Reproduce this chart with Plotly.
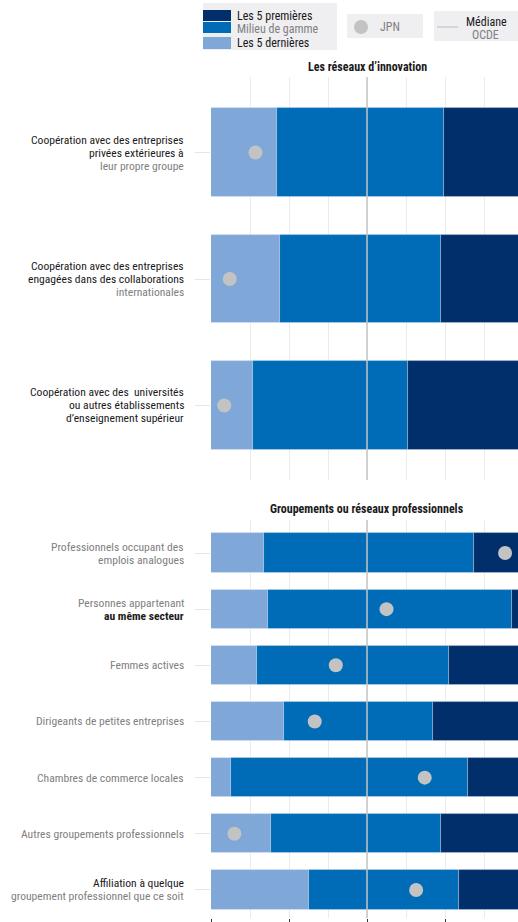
import plotly.graph_objects as go

# ---------------- data ----------------
top_labels = [
    ["Coopération avec des entreprises", "privées extérieures à", "leur propre groupe"],
    ["Coopération avec des entreprises", "engagées dans des collaborations", "internationales"],
    ["Coopération avec des  universités", "ou autres établissements", "d’enseignement supérieur"],
]
top_low = [8.5, 8.8, 5.4]      # end of "Les 5 dernières"
top_mid = [29.9, 29.5, 25.2]   # end of "Milieu de gamme"
top_max = [42, 42, 42]         # end of "Les 5 premières" (beyond visible range)
top_jpn = [5.7, 2.4, 1.7]

bot_labels = [
    ["Professionnels occupant des", "emplois analogues"],
    ["Personnes appartenant", "au même secteur"],
    ["Femmes actives"],
    ["Dirigeants de petites entreprises"],
    ["Chambres de commerce locales"],
    ["Autres groupements professionnels"],
    ["Affiliation à quelque", "groupement professionnel que ce soit"],
]
bot_low = [6.8, 7.3, 5.9, 9.3, 2.6, 7.7, 12.5]
bot_mid = [33.7, 38.6, 30.5, 28.4, 33.0, 29.5, 31.8]
bot_max = [42, 42, 42, 42, 42, 42, 42]
bot_jpn = [37.7, 22.5, 16.0, 13.3, 27.4, 3.0, 26.3]

oecd_median = 20

panel_titles = ["Les réseaux d’innovation", "Groupements ou réseaux professionnels"]
legend_bars = ["Les 5 premières", "Milieu de gamme", "Les 5 dernières"]
legend_jpn = "JPN"
legend_median = ["Médiane", "OCDE"]

# ---------------- styles ----------------
FONT = "Roboto Condensed, Liberation Sans, sans-serif"
FS = 11.6
LINE_GAP = 13
C_DARK = "#002F6C"
C_MID = "#006BB6"
C_LIGHT = "#7FA7D8"
C_DOT = "#C3C3C3"
C_MED = "#C6C6C6"
C_GRID = "#EBEBEB"
BLACK = "#1A1A1A"
GRAY = "#808080"
top_styles = [["k", "k", "g"], ["k", "k", "g"], ["k", "k", "k"]]
bot_styles = [["g", "g"], ["g", "b"], ["g"], ["g"], ["g"], ["g"], ["k", "g"]]

W, H = 518, 922
L = 211
PW = W - L
XR = PW / 7.8  # 7.8 px per unit


def px(x):
    return (x - L) / PW


def py(y):
    return 1 - y / H


fig = go.Figure()

panels = [
    dict(labels=top_labels, low=top_low, mid=top_mid, mx=top_max, jpn=top_jpn,
         xa="x", ya="y", styles=top_styles),
    dict(labels=bot_labels, low=bot_low, mid=bot_mid, mx=bot_max, jpn=bot_jpn,
         xa="x2", ya="y2", styles=bot_styles),
]

bar_line = dict(color="rgba(255,255,255,0.35)", width=0.8)
for p in panels:
    n = len(p["labels"])
    ys = list(range(n))
    lows, mids, mxs = p["low"], p["mid"], p["mx"]
    fig.add_trace(go.Bar(y=ys, x=lows, base=[0] * n, orientation="h", width=0.7,
                         marker=dict(color=C_LIGHT, line=bar_line),
                         xaxis=p["xa"], yaxis=p["ya"], showlegend=False, hoverinfo="skip"))
    fig.add_trace(go.Bar(y=ys, x=[m - l for m, l in zip(mids, lows)], base=lows,
                         orientation="h", width=0.7,
                         marker=dict(color=C_MID, line=bar_line),
                         xaxis=p["xa"], yaxis=p["ya"], showlegend=False, hoverinfo="skip"))
    fig.add_trace(go.Bar(y=ys, x=[m - d for m, d in zip(mxs, mids)], base=mids,
                         orientation="h", width=0.7,
                         marker=dict(color=C_DARK, line=bar_line),
                         xaxis=p["xa"], yaxis=p["ya"], showlegend=False, hoverinfo="skip"))
    fig.add_trace(go.Scatter(y=ys, x=p["jpn"], mode="markers",
                             marker=dict(color=C_DOT, size=14, line=dict(width=0)),
                             xaxis=p["xa"], yaxis=p["ya"], showlegend=False, hoverinfo="skip"))
    fig.add_shape(type="line", xref=p["xa"], yref=p["ya"] + " domain",
                  x0=oecd_median, x1=oecd_median, y0=0, y1=1,
                  line=dict(color=C_MED, width=1.5), layer="above")
    for i, lines in enumerate(p["labels"]):
        k = len(lines)
        for j, line in enumerate(lines):
            st = p["styles"][i][j]
            txt = f"<b>{line}</b>" if st == "b" else line
            fig.add_annotation(x=0, xref="paper", y=i, yref=p["ya"],
                               xanchor="right", yanchor="middle", xshift=-26,
                               yshift=((k - 1) / 2 - j) * LINE_GAP, borderpad=0,
                               text=txt, showarrow=False,
                               font=dict(family=FONT, size=FS,
                                         color=GRAY if st == "g" else BLACK))

axis_common = dict(range=[0, XR], showgrid=True, gridcolor=C_GRID, gridwidth=1,
                   zeroline=False, showline=False, showticklabels=False,
                   tick0=0, dtick=5)
fig.update_layout(
    width=W, height=H,
    margin=dict(l=L, r=0, t=0, b=0),
    paper_bgcolor="white", plot_bgcolor="white",
    barmode="overlay", bargap=0,
    font=dict(family=FONT, size=FS, color=BLACK),
    xaxis=dict(**axis_common, anchor="y", ticks=""),
    yaxis=dict(domain=[py(480), py(77)], range=[2.589, -0.597], showgrid=False,
               zeroline=False, showticklabels=False, tickvals=list(range(len(top_labels))),
               ticks="outside", ticklen=15, tickcolor="#E6E6E6", anchor="x"),
    xaxis2=dict(range=[0, XR], showgrid=True, gridcolor=C_GRID, zeroline=False,
                showline=False, showticklabels=False, tick0=0, dtick=10,
                ticks="outside", ticklen=5, tickcolor="#333333", tickwidth=1,
                minor=dict(dtick=5, showgrid=True, gridcolor=C_GRID, ticks=""),
                anchor="y2"),
    yaxis2=dict(domain=[py(918), py(520)], range=[6.499, -0.5875], showgrid=False,
                zeroline=False, showticklabels=False, tickvals=list(range(len(bot_labels))),
                ticks="outside", ticklen=15, tickcolor="#E6E6E6", anchor="x2"),
)

for t, ypix in zip(panel_titles, [67, 509]):
    fig.add_annotation(x=px(367), y=py(ypix), xref="paper", yref="paper",
                       xanchor="center", yanchor="middle", showarrow=False,
                       text=f"<b>{t}</b>", font=dict(family=FONT, size=12, color=BLACK))

# ---------------- legend ----------------
LBG = "#EFEEF1"
for (x0, y0, x1, y1) in [(203, 3, 337, 50), (347, 14, 423, 38), (434, 11, 518, 41)]:
    fig.add_shape(type="rect", xref="paper", yref="paper", x0=px(x0), x1=px(x1),
                  y0=py(y1), y1=py(y0), fillcolor=LBG, line=dict(width=0), layer="above")
for col, (y0, y1), txt, tc, yc in zip([C_DARK, C_MID, C_LIGHT], [(10, 21), (22, 33), (37, 49)],
                                      legend_bars, [BLACK, GRAY, BLACK], [16, 29, 43]):
    fig.add_shape(type="rect", xref="paper", yref="paper", x0=px(203), x1=px(231),
                  y0=py(y1), y1=py(y0), fillcolor=col, line=dict(width=0), layer="above")
    fig.add_annotation(x=px(236), y=py(yc), xref="paper", yref="paper", xanchor="left",
                       yanchor="middle", showarrow=False, text=txt, borderpad=0,
                       font=dict(family=FONT, size=12, color=tc))
fig.add_shape(type="circle", xref="paper", yref="paper", x0=px(354), x1=px(368),
              y0=py(34), y1=py(20), fillcolor=C_DOT, line=dict(width=0), layer="above")
fig.add_annotation(x=px(389.5), y=py(27), xref="paper", yref="paper", xanchor="center",
                   yanchor="middle", showarrow=False, text=legend_jpn,
                   font=dict(family=FONT, size=12, color=GRAY))
fig.add_shape(type="line", xref="paper", yref="paper", x0=px(437), x1=px(458),
              y0=py(27), y1=py(27), line=dict(color=C_MED, width=1.2), layer="above")
fig.add_annotation(x=px(486), y=py(22), xref="paper", yref="paper", xanchor="center",
                   yanchor="middle", showarrow=False, text=legend_median[0], borderpad=0,
                   font=dict(family=FONT, size=12, color=BLACK))
fig.add_annotation(x=px(485), y=py(35.5), xref="paper", yref="paper", xanchor="center",
                   yanchor="middle", showarrow=False, text=legend_median[1], borderpad=0,
                   font=dict(family=FONT, size=12, color=GRAY))

fig.write_html("out.html", config={"displayModeBar": False},
               post_script="document.body.style.margin='0';")
